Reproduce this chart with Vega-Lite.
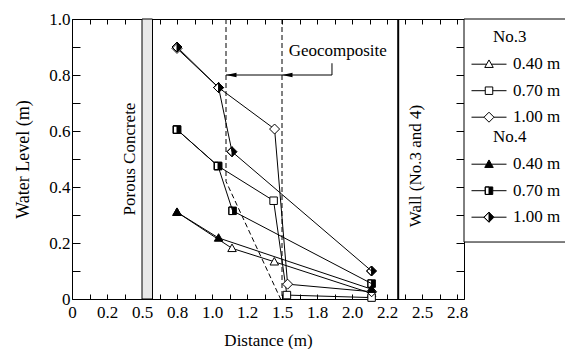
{
  "$schema": "https://vega.github.io/schema/vega-lite/v6.json",
  "width": 392,
  "height": 280,
  "autosize": "none",
  "padding": {"left": 72, "top": 19, "right": 101, "bottom": 50},
  "background": "white",
  "config": {
    "view": {"stroke": null},
    "font": "Liberation Serif",
    "axis": {
      "domainColor": "black", "tickColor": "black", "labelColor": "black", "titleColor": "black",
      "labelFont": "Liberation Serif", "titleFont": "Liberation Serif",
      "labelFontSize": 17, "titleFontSize": 17, "titleFontWeight": "normal",
      "grid": false, "domainWidth": 1, "tickWidth": 1
    },
    "legend": {
      "labelFont": "Liberation Serif", "labelFontSize": 17, "labelColor": "black",
      "titleFont": "Liberation Serif", "titleFontSize": 17, "titleFontWeight": "normal", "titleColor": "black"
    }
  },
  "datasets": {
    "pts": [
      {"s": "3a", "i": 0, "x": 0.75, "y": 0.31},
      {"s": "3a", "i": 1, "x": 1.143, "y": 0.181},
      {"s": "3a", "i": 2, "x": 1.445, "y": 0.133},
      {"s": "3a", "i": 3, "x": 2.14, "y": 0.02},
      {"s": "3b", "i": 0, "x": 0.75, "y": 0.605},
      {"s": "3b", "i": 1, "x": 1.043, "y": 0.475},
      {"s": "3b", "i": 2, "x": 1.44, "y": 0.351},
      {"s": "3b", "i": 3, "x": 1.535, "y": 0.014},
      {"s": "3b", "i": 4, "x": 2.14, "y": 0.005},
      {"s": "3c", "i": 0, "x": 0.75, "y": 0.895},
      {"s": "3c", "i": 1, "x": 1.047, "y": 0.755},
      {"s": "3c", "i": 2, "x": 1.447, "y": 0.607},
      {"s": "3c", "i": 3, "x": 1.54, "y": 0.053},
      {"s": "3c", "i": 4, "x": 2.14, "y": 0.026},
      {"s": "4a", "i": 0, "x": 0.75, "y": 0.31},
      {"s": "4a", "i": 1, "x": 1.047, "y": 0.218},
      {"s": "4a", "i": 2, "x": 2.14, "y": 0.035},
      {"s": "4b", "i": 0, "x": 0.75, "y": 0.605},
      {"s": "4b", "i": 1, "x": 1.043, "y": 0.475},
      {"s": "4b", "i": 2, "x": 1.147, "y": 0.315},
      {"s": "4b", "i": 3, "x": 2.14, "y": 0.055},
      {"s": "4c", "i": 0, "x": 0.75, "y": 0.9},
      {"s": "4c", "i": 1, "x": 1.047, "y": 0.755},
      {"s": "4c", "i": 2, "x": 1.143, "y": 0.526},
      {"s": "4c", "i": 3, "x": 2.14, "y": 0.1}
    ],
    "dash": [
      {"g": "a", "i": 0, "x": 1.1, "y": 1.0},
      {"g": "a", "i": 1, "x": 1.1, "y": 0.42},
      {"g": "a", "i": 2, "x": 1.49, "y": 0.0},
      {"g": "b", "i": 0, "x": 1.5, "y": 1.0},
      {"g": "b", "i": 1, "x": 1.5, "y": 0.0}
    ],
    "arrow": [
      {"i": 0, "x": 1.1, "y": 0.8},
      {"i": 1, "x": 1.857, "y": 0.8},
      {"i": 2, "x": 1.857, "y": 0.842}
    ],
    "heads": [
      {"x": 1.1375, "y": 0.8},
      {"x": 1.5375, "y": 0.8}
    ],
    "porous": [{"x0": 0.5, "x1": 0.575, "y0": 0, "y1": 1}],
    "legendbox": [{"x0": 2.8, "x1": 3.8, "y0": 0.2035, "y1": 1}],
    "wall": [{"x": 2.33, "y0": 0, "y1": 1}],
    "vnotes": [
      {"t": "Porous Concrete", "x": 0.417, "y": 0.5},
      {"t": "Wall (No.3 and 4)", "x": 2.456, "y": 0.475}
    ],
    "hnotes": [
      {"t": "Geocomposite", "x": 1.898, "y": 0.885}
    ]
  },
  "layer": [
    {
      "data": {"name": "porous"},
      "mark": {"type": "rect", "fill": "#e8e8e8", "stroke": "black", "strokeWidth": 1},
      "encoding": {
        "x": {"field": "x0", "type": "quantitative", "scale": {"domain": [0, 2.8], "nice": false, "zero": false},
          "axis": {"orient": "bottom", "title": "Distance (m)",
            "values": [0, 0.125, 0.25, 0.375, 0.5, 0.625, 0.75, 0.875, 1, 1.125, 1.25, 1.375, 1.5, 1.625, 1.75, 1.875, 2, 2.125, 2.25, 2.375, 2.5, 2.625, 2.75],
            "labelExpr": "round(datum.value*8) % 2 == 1 ? '' : ['0','0.2','0.5','0.8','1.0','1.2','1.5','1.8','2.0','2.2','2.5','2.8'][round(datum.value*4)]",
            "tickSize": -5, "labelPadding": 10, "titlePadding": 12, "labelFlush": false, "labelOverlap": false}},
        "x2": {"field": "x1"},
        "y": {"field": "y0", "type": "quantitative", "scale": {"domain": [0, 1], "nice": false, "zero": false},
          "axis": {"orient": "left", "title": "Water Level (m)", "titleFontSize": 18,
            "values": [0, 0.1, 0.2, 0.3, 0.4, 0.5, 0.6, 0.7, 0.8, 0.9, 1.0],
            "labelExpr": "round(datum.value*10) % 2 == 1 ? '' : (datum.value == 0 ? '0' : format(datum.value, '.1f'))",
            "tickSize": -8, "labelPadding": 10, "titlePadding": 16, "labelFlush": false, "labelOverlap": false}},
        "y2": {"field": "y1"}
      }
    },
    {
      "data": {"name": "wall"},
      "mark": {"type": "rule", "color": "black", "strokeWidth": 2},
      "encoding": {
        "x": {"field": "x", "type": "quantitative",
          "axis": {"orient": "top", "title": null, "labels": false,
            "values": [0, 0.125, 0.25, 0.375, 0.5, 0.625, 0.75, 0.875, 1, 1.125, 1.25, 1.375, 1.5, 1.625, 1.75, 1.875, 2, 2.125, 2.25, 2.375, 2.5, 2.625, 2.75],
            "tickSize": -5}},
        "y": {"field": "y0", "type": "quantitative",
          "axis": {"orient": "right", "title": null, "labels": false,
            "values": [0, 0.1, 0.2, 0.3, 0.4, 0.5, 0.6, 0.7, 0.8, 0.9, 1.0],
            "tickSize": -8}},
        "y2": {"field": "y1"}
      }
    },
    {
      "data": {"name": "legendbox"},
      "mark": {"type": "rect", "fill": "white", "stroke": "black", "strokeWidth": 1, "clip": false},
      "encoding": {
        "x": {"field": "x0", "type": "quantitative", "axis": null},
        "x2": {"field": "x1"},
        "y": {"field": "y0", "type": "quantitative", "axis": null},
        "y2": {"field": "y1"}
      }
    },
    {
      "data": {"name": "dash"},
      "mark": {"type": "line", "color": "black", "strokeWidth": 1, "strokeDash": [5, 3]},
      "encoding": {
        "x": {"field": "x", "type": "quantitative", "axis": null},
        "y": {"field": "y", "type": "quantitative", "axis": null},
        "detail": {"field": "g"},
        "order": {"field": "i", "type": "quantitative"}
      }
    },
    {
      "data": {"name": "arrow"},
      "mark": {"type": "line", "color": "black", "strokeWidth": 1},
      "encoding": {
        "x": {"field": "x", "type": "quantitative", "axis": null},
        "y": {"field": "y", "type": "quantitative", "axis": null},
        "order": {"field": "i", "type": "quantitative"}
      }
    },
    {
      "data": {"name": "heads"},
      "mark": {"type": "point", "shape": "M-1,0L1,-0.45L1,0.45Z", "filled": true, "color": "black", "opacity": 1, "size": 110},
      "encoding": {
        "x": {"field": "x", "type": "quantitative", "axis": null},
        "y": {"field": "y", "type": "quantitative", "axis": null}
      }
    },
    {
      "data": {"name": "pts"},
      "mark": {"type": "line", "color": "black", "strokeWidth": 1},
      "encoding": {
        "x": {"field": "x", "type": "quantitative", "axis": null},
        "y": {"field": "y", "type": "quantitative", "axis": null},
        "detail": {"field": "s"},
        "order": {"field": "i", "type": "quantitative"}
      }
    },
    {
      "data": {"name": "pts"},
      "mark": {"type": "point", "filled": true, "stroke": "black", "strokeWidth": 1, "opacity": 1, "size": 100},
      "encoding": {
        "x": {"field": "x", "type": "quantitative", "axis": null},
        "y": {"field": "y", "type": "quantitative", "axis": null},
        "shape": {"field": "s", "type": "nominal", "legend": null,
          "scale": {"domain": ["3a", "3b", "3c", "4a", "4b", "4c"],
            "range": ["M0,-0.85L0.85,0.65L-0.85,0.65Z", "M-0.75,-0.75L0.75,-0.75L0.75,0.75L-0.75,0.75Z", "M0,-1L1,0L0,1L-1,0Z", "M0,-0.85L0.85,0.65L-0.85,0.65Z", "M-0.75,-0.75L0.75,-0.75L0.75,0.75L-0.75,0.75Z M-0.75,-0.75L-0.75,0.75L0,0.75L0,-0.75Z", "M0,-1L1,0L0,1L-1,0Z M0,-1L-1,0L0,1Z"]}},
        "fill": {"field": "s", "type": "nominal", "legend": null,
          "scale": {"domain": ["3a", "3b", "3c", "4a", "4b", "4c"], "range": ["white", "white", "white", "black", "black", "black"]}}
      }
    },
    {
      "data": {"name": "pts"},
      "transform": [{"filter": "datum.x < 0"}],
      "mark": {"type": "point", "filled": true, "stroke": "black", "strokeWidth": 1, "opacity": 1, "size": 100},
      "encoding": {
        "x": {"field": "x", "type": "quantitative", "axis": null},
        "y": {"field": "y", "type": "quantitative", "axis": null},
        "shape": {"field": "s", "type": "nominal",
          "scale": {"domain": ["3a", "3b", "3c"],
            "range": ["M-3.5,0L-0.48,0M0.48,0L3.5,0 M0,-0.85L0.85,0.65L-0.85,0.65Z", "M-3.5,0L-0.75,0M0.75,0L3.5,0 M-0.75,-0.75L0.75,-0.75L0.75,0.75L-0.75,0.75Z", "M-3.5,0L-1,0M1,0L3.5,0 M0,-1L1,0L0,1L-1,0Z"]},
          "legend": {"title": "No.3", "orient": "none", "legendX": 421, "legendY": 9.7, "padding": 0,
            "titlePadding": 10, "symbolOffset": -12.5, "labelOffset": 15.5, "rowPadding": 8.5, "symbolSize": 100,
            "symbolStrokeWidth": 1, "symbolOpacity": 1, "labelLimit": 300,
            "labelExpr": "['0.40 m','0.70 m','1.00 m'][indexof(['3a','3b','3c'], datum.value)]"}},
        "fill": {"field": "s", "type": "nominal",
          "scale": {"domain": ["3a", "3b", "3c"], "range": ["white", "white", "white"]},
          "legend": {"title": "No.3", "orient": "none", "legendX": 421, "legendY": 9.7, "padding": 0,
            "titlePadding": 10, "symbolOffset": -12.5, "labelOffset": 15.5, "rowPadding": 8.5, "symbolSize": 100,
            "symbolStrokeWidth": 1, "symbolOpacity": 1, "labelLimit": 300,
            "labelExpr": "['0.40 m','0.70 m','1.00 m'][indexof(['3a','3b','3c'], datum.value)]"}},
        "stroke": {"field": "s", "type": "nominal",
          "scale": {"domain": ["3a", "3b", "3c"], "range": ["black", "black", "black"]},
          "legend": {"title": "No.3", "orient": "none", "legendX": 421, "legendY": 9.7, "padding": 0,
            "titlePadding": 10, "symbolOffset": -12.5, "labelOffset": 15.5, "rowPadding": 8.5, "symbolSize": 100,
            "symbolStrokeWidth": 1, "symbolOpacity": 1, "labelLimit": 300,
            "labelExpr": "['0.40 m','0.70 m','1.00 m'][indexof(['3a','3b','3c'], datum.value)]"}}
      }
    },
    {
      "data": {"name": "pts"},
      "transform": [{"filter": "datum.x < 0"}],
      "mark": {"type": "point", "filled": true, "stroke": "black", "strokeWidth": 1, "opacity": 1, "size": 100},
      "encoding": {
        "x": {"field": "x", "type": "quantitative", "axis": null},
        "y": {"field": "y", "type": "quantitative", "axis": null},
        "shape": {"field": "s", "type": "nominal",
          "scale": {"domain": ["4a", "4b", "4c"],
            "range": ["M-3.5,0L-0.48,0M0.48,0L3.5,0 M0,-0.85L0.85,0.65L-0.85,0.65Z", "M-3.5,0L-0.75,0M0.75,0L3.5,0 M-0.75,-0.75L0.75,-0.75L0.75,0.75L-0.75,0.75Z M-0.75,-0.75L-0.75,0.75L0,0.75L0,-0.75Z", "M-3.5,0L-1,0M1,0L3.5,0 M0,-1L1,0L0,1L-1,0Z M0,-1L-1,0L0,1Z"]},
          "legend": {"title": "No.4", "orient": "none", "legendX": 421, "legendY": 109.7, "padding": 0,
            "titlePadding": 10, "symbolOffset": -12.5, "labelOffset": 15.5, "rowPadding": 8.5, "symbolSize": 100,
            "symbolStrokeWidth": 1, "symbolOpacity": 1, "labelLimit": 300,
            "labelExpr": "['0.40 m','0.70 m','1.00 m'][indexof(['4a','4b','4c'], datum.value)]"}},
        "fill": {"field": "s", "type": "nominal",
          "scale": {"domain": ["4a", "4b", "4c"], "range": ["black", "black", "black"]},
          "legend": {"title": "No.4", "orient": "none", "legendX": 421, "legendY": 109.7, "padding": 0,
            "titlePadding": 10, "symbolOffset": -12.5, "labelOffset": 15.5, "rowPadding": 8.5, "symbolSize": 100,
            "symbolStrokeWidth": 1, "symbolOpacity": 1, "labelLimit": 300,
            "labelExpr": "['0.40 m','0.70 m','1.00 m'][indexof(['4a','4b','4c'], datum.value)]"}},
        "stroke": {"field": "s", "type": "nominal",
          "scale": {"domain": ["4a", "4b", "4c"], "range": ["black", "black", "black"]},
          "legend": {"title": "No.4", "orient": "none", "legendX": 421, "legendY": 109.7, "padding": 0,
            "titlePadding": 10, "symbolOffset": -12.5, "labelOffset": 15.5, "rowPadding": 8.5, "symbolSize": 100,
            "symbolStrokeWidth": 1, "symbolOpacity": 1, "labelLimit": 300,
            "labelExpr": "['0.40 m','0.70 m','1.00 m'][indexof(['4a','4b','4c'], datum.value)]"}}
      }
    },
    {
      "data": {"name": "vnotes"},
      "mark": {"type": "text", "angle": 270, "align": "center", "baseline": "middle", "font": "Liberation Serif", "fontSize": 17, "color": "black"},
      "encoding": {
        "x": {"field": "x", "type": "quantitative", "axis": null},
        "y": {"field": "y", "type": "quantitative", "axis": null},
        "text": {"field": "t"}
      }
    },
    {
      "data": {"name": "hnotes"},
      "mark": {"type": "text", "align": "center", "baseline": "middle", "font": "Liberation Serif", "fontSize": 17, "color": "black"},
      "encoding": {
        "x": {"field": "x", "type": "quantitative", "axis": null},
        "y": {"field": "y", "type": "quantitative", "axis": null},
        "text": {"field": "t"}
      }
    }
  ],
  "resolve": {
    "scale": {"shape": "independent", "fill": "independent", "stroke": "independent"},
    "axis": {"x": "independent", "y": "independent"}
  }
}
